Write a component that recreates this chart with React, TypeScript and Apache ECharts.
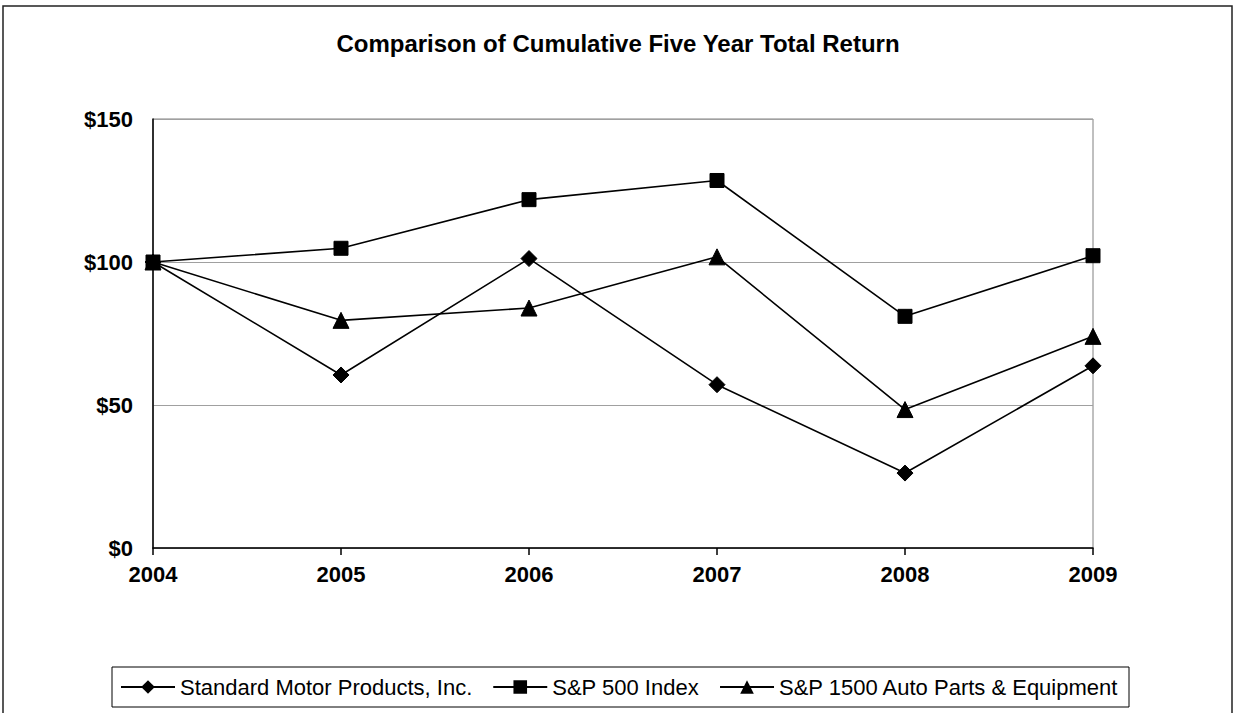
import React, { useEffect, useRef } from "react";
import * as echarts from "echarts";

const years = ["2004", "2005", "2006", "2007", "2008", "2009"];
const smpValues = [100, 60.5, 101.2, 57.1, 26.2, 63.7];
const sp500Values = [100, 104.8, 121.8, 128.5, 81.0, 102.2];
const autoValues = [100, 79.6, 83.9, 101.8, 48.4, 74.0];
const seriesNames = [
  "Standard Motor Products, Inc.",
  "S&P 500 Index",
  "S&P 1500 Auto Parts & Equipment",
];
const yTicks = [0, 50, 100, 150];

export default function App() {
  const ref = useRef<HTMLDivElement>(null);
  useEffect(() => {
    if (!ref.current) return;
    const chart = echarts.init(ref.current, undefined, { renderer: "svg" });
    const font = "Arial, 'Liberation Sans', Helvetica, sans-serif";
    const mk = (name: string, data: number[], symbol: string, size: number) => ({
      name,
      type: "line",
      data,
      symbol,
      symbolSize: size,
      showAllSymbol: true,
      lineStyle: { color: "#000", width: 1.6 },
      itemStyle: { color: "#000", borderColor: "#000" },
      emphasis: { disabled: true },
    });
    chart.setOption({
      animation: false,
      backgroundColor: "#fff",
      title: {
        text: "Comparison of Cumulative Five Year Total Return",
        left: "center",
        top: 26,
        textStyle: { fontFamily: font, fontSize: 24, fontWeight: "bold", color: "#000" },
      },
      graphic: [
        {
          type: "rect",
          shape: { x: 3, y: 6, width: 1229, height: 720 },
          style: { fill: "none", stroke: "#222", lineWidth: 1.5 },
          silent: true,
        },
      ],
      legend: {
        data: seriesNames,
        left: 112,
        top: 667,
        orient: "horizontal",
        borderColor: "#000",
        borderWidth: 1,
        padding: [9, 10, 9, 8],
        itemGap: 20,
        itemWidth: 54,
        itemHeight: 17,
        textStyle: { fontFamily: font, fontSize: 22, color: "#000" },
        selectedMode: false,
      },
      grid: {
        left: 153,
        top: 119,
        right: 143,
        bottom: 165,
        show: true,
        borderColor: "#808080",
        borderWidth: 1,
        backgroundColor: "#fff",
      },
      xAxis: {
        type: "category",
        data: years,
        boundaryGap: false,
        axisLine: { show: true, lineStyle: { color: "#000", width: 1.5 } },
        axisTick: { show: true, length: 7, inside: false, lineStyle: { color: "#000", width: 1.5 } },
        axisLabel: {
          margin: 15,
          fontFamily: font,
          fontSize: 22,
          fontWeight: "bold",
          color: "#000",
        },
        splitLine: { show: false },
      },
      yAxis: {
        type: "value",
        min: yTicks[0],
        max: yTicks[yTicks.length - 1],
        interval: 50,
        axisLine: { show: true, lineStyle: { color: "#000", width: 1.5 } },
        axisTick: { show: false },
        axisLabel: {
          margin: 20,
          fontFamily: font,
          fontSize: 22,
          fontWeight: "bold",
          color: "#000",
          formatter: (v: number) => "$" + v,
        },
        splitLine: { show: true, lineStyle: { color: "#a0a0a0", width: 1 } },
      },
      series: [
        mk(seriesNames[0], smpValues, "diamond", 16),
        mk(seriesNames[1], sp500Values, "rect", 14),
        mk(seriesNames[2], autoValues, "triangle", 16),
      ],
    });
    return () => chart.dispose();
  }, []);
  return (
    <div
      ref={ref}
      style={{ position: "absolute", left: 0, top: 0, width: 1236, height: 713 }}
    />
  );
}
